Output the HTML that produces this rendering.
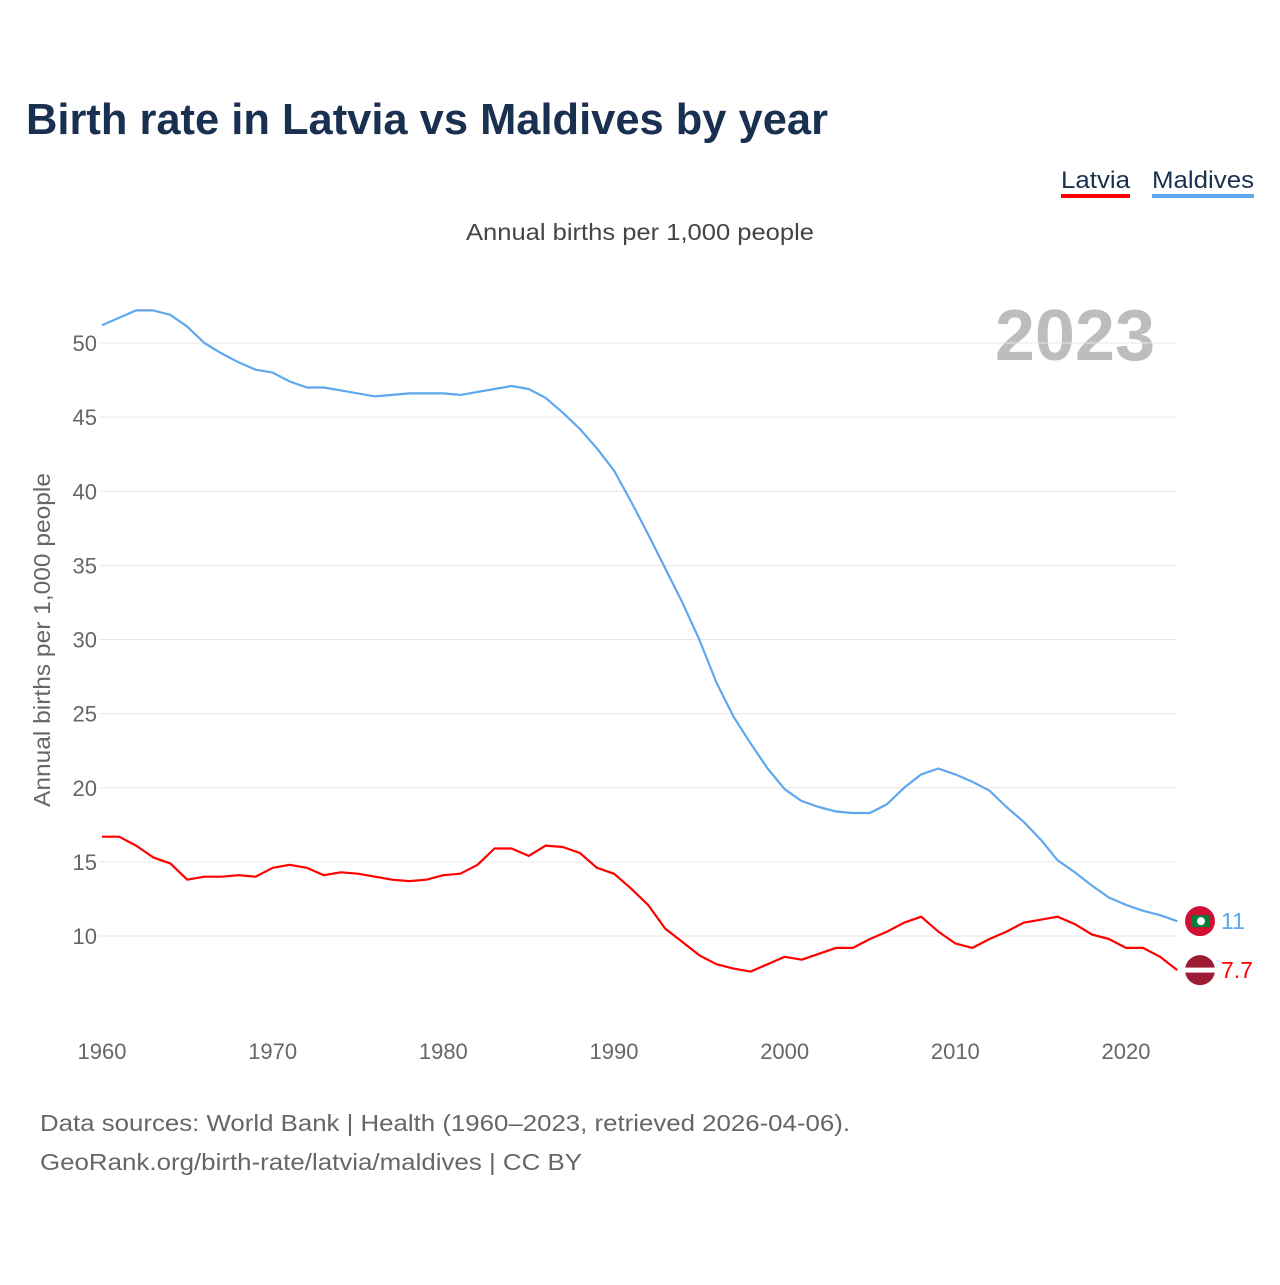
<!DOCTYPE html>
<html><head><meta charset="utf-8">
<style>
body{margin:0;background:#fff;font-family:"Liberation Sans",sans-serif;}
svg text{font-family:"Liberation Sans",sans-serif;}
</style></head>
<body>
<svg id="chart" width="1280" height="1280" viewBox="0 0 1280 1280" xmlns="http://www.w3.org/2000/svg">
<rect width="1280" height="1280" fill="#fff"/>
<text x="26" y="134" font-size="44" font-weight="bold" fill="#1a3050" textLength="802" lengthAdjust="spacingAndGlyphs">Birth rate in Latvia vs Maldives by year</text>
<g>
<text x="1061" y="188" font-size="24" fill="#1a3050" textLength="69" lengthAdjust="spacingAndGlyphs">Latvia</text>
<rect x="1061" y="194" width="69" height="4" fill="#f00"/></g>
<g>
<text x="1152" y="188" font-size="24" fill="#1a3050" textLength="102" lengthAdjust="spacingAndGlyphs">Maldives</text>
<rect x="1152" y="194" width="102" height="4" fill="#5fa8ee"/></g>
<text x="466" y="240" font-size="23" fill="#444" textLength="348" lengthAdjust="spacingAndGlyphs">Annual births per 1,000 people</text>
<text x="1155" y="360" font-size="72" font-weight="bold" fill="#bdbdbd" text-anchor="end">2023</text>
<text transform="translate(50,640) rotate(-90)" font-size="23" fill="#666" text-anchor="middle" textLength="334" lengthAdjust="spacingAndGlyphs">Annual births per 1,000 people</text>
<g id="grid"></g><g id="lines"></g>
<text x="40" y="1131" font-size="23" fill="#666" textLength="810" lengthAdjust="spacingAndGlyphs">Data sources: World Bank | Health (1960–2023, retrieved 2026-04-06).</text>
<text x="40" y="1170" font-size="23" fill="#666" textLength="542" lengthAdjust="spacingAndGlyphs">GeoRank.org/birth-rate/latvia/maldives | CC BY</text>
</svg>
<script>
const years=[];for(let y=1960;y<=2023;y++)years.push(y);
const maldives=[51.2,51.7,52.2,52.2,51.9,51.1,50.0,49.3,48.7,48.2,48.0,47.4,47.0,47.0,46.8,46.6,46.4,46.5,46.6,46.6,46.6,46.5,46.7,46.9,47.1,46.9,46.3,45.3,44.2,42.9,41.4,39.3,37.1,34.8,32.5,30.0,27.1,24.8,23.0,21.3,19.9,19.1,18.7,18.4,18.3,18.3,18.9,20.0,20.9,21.3,20.9,20.4,19.8,18.7,17.7,16.5,15.1,14.3,13.4,12.6,12.1,11.7,11.4,11.0];
const latvia=[16.7,16.7,16.1,15.3,14.9,13.8,14.0,14.0,14.1,14.0,14.6,14.8,14.6,14.1,14.3,14.2,14.0,13.8,13.7,13.8,14.1,14.2,14.8,15.9,15.9,15.4,16.1,16.0,15.6,14.6,14.2,13.2,12.1,10.5,9.6,8.7,8.1,7.8,7.6,8.1,8.6,8.4,8.8,9.2,9.2,9.8,10.3,10.9,11.3,10.3,9.5,9.2,9.8,10.3,10.9,11.1,11.3,10.8,10.1,9.8,9.2,9.2,8.6,7.7];
const yTicks=[10,15,20,25,30,35,40,45,50];
const xTicks=[1960,1970,1980,1990,2000,2010,2020];
const X=y=>102+(y-1960)*1024/60;
const Y=v=>343+(50-v)*593/40;
const NS="http://www.w3.org/2000/svg";
const grid=document.getElementById('grid'),lines=document.getElementById('lines');
function mk(tag,attrs,parent,txt){const e=document.createElementNS(NS,tag);for(const k in attrs)e.setAttribute(k,attrs[k]);if(txt!==undefined)e.textContent=txt;parent.appendChild(e);return e;}
yTicks.forEach(t=>{
 const l=mk('line',{x1:100,x2:1176,y1:Y(t),y2:Y(t),stroke:'#e6e6e6','stroke-width':1},grid);
 
 
 const tx=mk('text',{x:97,y:Y(t)+8,'font-size':22,fill:'#666','text-anchor':'end'},grid,t);
 
 
});
xTicks.forEach(t=>{
 const tx=mk('text',{x:X(t),y:1059,'font-size':22,fill:'#666','text-anchor':'middle'},grid,t);
 
 
});
function series(vals,color,name){
 const d=vals.map((v,i)=>(i?'L':'M')+X(years[i]).toFixed(1)+','+Y(v).toFixed(1)).join('');
 const p=mk('path',{d:d,fill:'none',stroke:color,'stroke-width':2.2,'stroke-linejoin':'round'},lines);
 
 
}
series(maldives,'#5fa8ee','maldives');
series(latvia,'#f00','latvia');
const lm=maldives[maldives.length-1],ll=latvia[latvia.length-1];
const g1=mk('g',{},lines);


mk('circle',{cx:1200,cy:Y(lm),r:15,fill:'#d21034'},g1);
mk('rect',{x:1191,y:Y(lm)-6,width:18,height:12,fill:'#007e3a'},g1);
mk('circle',{cx:1201,cy:Y(lm),r:4,fill:'#fff'},g1);
const v1=mk('text',{x:1221,y:Y(lm)+8,'font-size':23,fill:'#5fa8ee'},lines,String(lm).replace(/\.0$/,''));


const g2=mk('g',{},lines);


mk('circle',{cx:1200,cy:Y(ll),r:15,fill:'#9e1b34'},g2);
mk('rect',{x:1185,y:Y(ll)-2.5,width:30,height:5,fill:'#fff'},g2);
const v2=mk('text',{x:1221,y:Y(ll)+8,'font-size':23,fill:'#f00'},lines,String(ll));


</script>
</body></html>
